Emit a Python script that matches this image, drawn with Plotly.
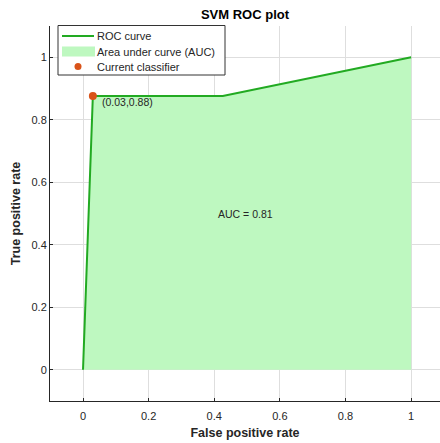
import plotly.graph_objects as go

fpr = [0.0, 0.03, 0.426, 1.0]
tpr = [0.0, 0.876, 0.876, 1.0]
cur_x = [0.03]
cur_y = [0.876]
cur_label = "(0.03,0.88)"
auc_label = "AUC = 0.81"
legend_labels = ["ROC curve", "Area under curve (AUC)", "Current classifier"]
xticks = [0, 0.2, 0.4, 0.6, 0.8, 1]
xtick_text = ["0", "0.2", "0.4", "0.6", "0.8", "1"]
yticks = [0, 0.2, 0.4, 0.6, 0.8, 1]
ytick_text = ["0", "0.2", "0.4", "0.6", "0.8", "1"]

FONT = "Liberation Sans, Arial, sans-serif"
LINE = "rgb(34,170,34)"
FILL = "rgb(190,248,192)"
DOT = "rgb(217,83,25)"
TXT = "#262626"

W, H = 440, 443
ML, MR, MT, MB = 50, 0, 26, 42
PW, PH = W - ML - MR, H - MT - MB


def px(x):
    return (x - ML) / PW


def py(y):
    return 1 - (y - MT) / PH


fig = go.Figure()
fig.add_trace(go.Scatter(x=fpr, y=tpr, mode="none", fill="tozeroy", fillcolor=FILL,
                         name=legend_labels[1], showlegend=False, hoverinfo="skip"))
fig.add_trace(go.Scatter(x=fpr, y=tpr, mode="lines", line=dict(color=LINE, width=2),
                         name=legend_labels[0], showlegend=False))
fig.add_trace(go.Scatter(x=cur_x, y=cur_y, mode="markers",
                         marker=dict(color=DOT, size=8), name=legend_labels[2],
                         showlegend=False))

fig.add_annotation(x=cur_x[0] + 0.022, y=cur_y[0] - 0.02, text=cur_label, showarrow=False,
                   xanchor="left", yanchor="middle", font=dict(size=10.5, color=TXT))
fig.add_annotation(x=0.405, y=0.5, text=auc_label, showarrow=False,
                   xanchor="left", yanchor="middle", font=dict(size=10.5, color=TXT))

# legend (drawn manually to match compact MATLAB style)
fig.add_shape(type="rect", xref="paper", yref="paper", x0=px(58), x1=px(225),
              y0=py(25.5), y1=py(75), line=dict(color="#333333", width=1),
              fillcolor="white", layer="above")
rows = [36, 51.5, 66.5]
fig.add_shape(type="line", xref="paper", yref="paper", x0=px(62), x1=px(94),
              y0=py(rows[0]), y1=py(rows[0]), line=dict(color=LINE, width=2), layer="above")
fig.add_shape(type="rect", xref="paper", yref="paper", x0=px(62), x1=px(95),
              y0=py(rows[1] + 5), y1=py(rows[1] - 5), line=dict(width=0),
              fillcolor=FILL, layer="above")
fig.add_shape(type="circle", xref="paper", yref="paper", x0=px(74.5), x1=px(81.5),
              y0=py(rows[2] + 3.5), y1=py(rows[2] - 3.5), line=dict(width=0),
              fillcolor=DOT, layer="above")
for lab, r in zip(legend_labels, rows):
    fig.add_annotation(xref="paper", yref="paper", x=px(95), y=py(r), text=lab,
                       showarrow=False, xanchor="left", yanchor="middle",
                       font=dict(size=11, color=TXT))

fig.update_layout(
    width=W, height=H,
    margin=dict(l=ML, r=MR, t=MT, b=MB, autoexpand=False),
    paper_bgcolor="white", plot_bgcolor="white",
    font=dict(family=FONT, size=11, color=TXT),
    title=dict(text="<b>SVM ROC plot</b>", x=(245 / W), xanchor="center",
               y=1 - 14 / H, yanchor="middle", font=dict(size=13, color="black")),
    showlegend=False,
)
fig.update_xaxes(range=[-0.1006, 1.088], tickvals=xticks, ticktext=xtick_text,
                 showgrid=True, gridcolor="#dedede", gridwidth=1, zeroline=False,
                 showline=True, linecolor=TXT, linewidth=1, automargin=False,
                 ticks="inside", ticklen=3, tickcolor=TXT, ticklabelstandoff=5,
                 title=dict(text="<b>False positive rate</b>", font=dict(size=12.5), standoff=7))
fig.update_yaxes(range=[-0.1, 1.1], tickvals=yticks, ticktext=ytick_text,
                 showgrid=True, gridcolor="#dedede", gridwidth=1, zeroline=False,
                 showline=True, linecolor=TXT, linewidth=1, automargin=False,
                 ticks="inside", ticklen=3, tickcolor=TXT,
                 title=dict(text="<b>True positive rate</b>", font=dict(size=12.5), standoff=8))

fig.write_html("out.html", config={"displayModeBar": False},
               post_script="document.body.style.margin='0';document.body.style.overflow='hidden';")
